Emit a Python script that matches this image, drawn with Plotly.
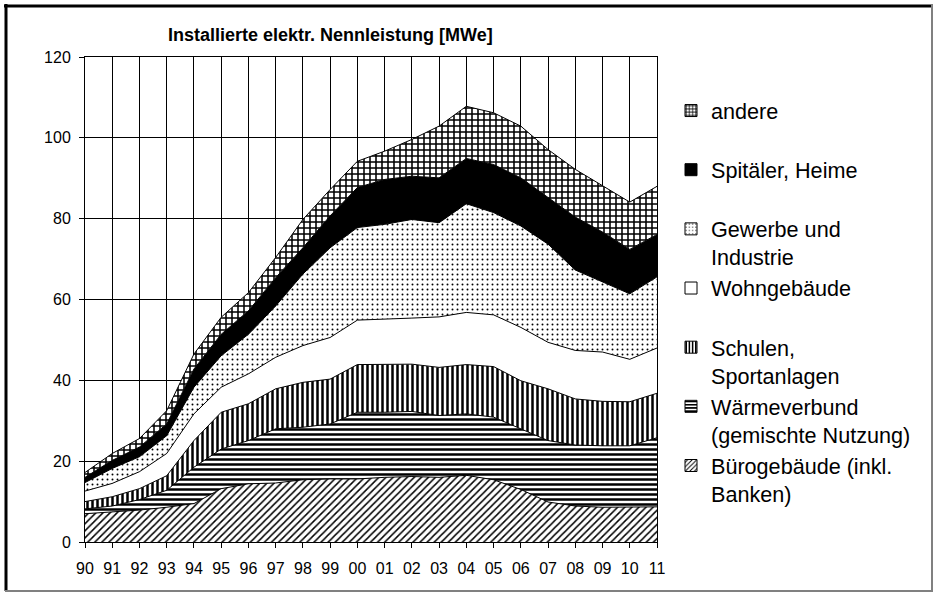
import plotly.graph_objects as go

years = ["90", "91", "92", "93", "94", "95", "96", "97", "98", "99", "00",
         "01", "02", "03", "04", "05", "06", "07", "08", "09", "10", "11"]

buero = [7.0, 7.5, 7.9, 8.6, 9.5, 13.2, 14.4, 14.6, 15.4, 15.6, 15.6,
         16.0, 16.2, 16.0, 16.5, 15.4, 13.0, 9.9, 8.9, 8.6, 8.6, 8.7]
waerme = [1.2, 1.4, 2.6, 4.2, 9.0, 9.8, 10.7, 13.4, 13.0, 13.6, 16.5,
          16.1, 16.1, 15.3, 15.2, 15.5, 15.0, 15.2, 15.1, 15.2, 15.2, 17.1]
schulen = [1.8, 2.3, 2.7, 3.6, 6.6, 9.1, 9.1, 9.9, 11.1, 11.1, 11.8,
           11.9, 11.7, 11.9, 12.2, 12.5, 11.9, 12.8, 11.4, 11.0, 10.9, 11.0]
wohn = [2.6, 3.3, 4.2, 5.5, 6.6, 6.2, 7.4, 7.8, 9.1, 10.3, 11.0,
        11.1, 11.4, 12.5, 12.9, 12.8, 13.2, 11.5, 12.0, 12.2, 10.5, 11.2]
gewerbe = [2.1, 3.7, 3.7, 4.4, 6.6, 7.8, 9.8, 12.7, 17.7, 22.2, 22.9,
           23.5, 24.4, 23.3, 26.9, 25.3, 25.1, 24.3, 19.9, 17.4, 16.2, 17.6]
spitaeler = [1.3, 2.0, 2.4, 2.9, 4.5, 5.3, 5.8, 7.0, 6.5, 7.9, 9.9,
             11.1, 10.7, 11.1, 11.2, 11.9, 11.9, 11.5, 13.1, 12.3, 11.0, 10.5]
andere = [1.2, 1.7, 2.1, 3.3, 3.7, 4.2, 4.5, 5.0, 7.0, 6.5, 6.5,
          7.0, 9.1, 12.8, 12.9, 12.8, 12.8, 11.9, 11.8, 11.4, 11.7, 11.9]

NB = "\u00a0"
series = [
    ("Bürogebäude (inkl.<br>Banken)", buero,
     dict(pattern=dict(shape="/", size=5, solidity=0.3), color="white")),
    ("Wärmeverbund<br>(gemischte Nutzung)", waerme,
     dict(pattern=dict(shape="-", size=5, solidity=0.5), color="white")),
    ("Schulen,<br>Sportanlagen", schulen,
     dict(pattern=dict(shape="|", size=5, solidity=0.5), color="white")),
    ("Wohngebäude<br>" + NB, wohn, dict(pattern=None, color="white")),
    ("Gewerbe und<br>Industrie", gewerbe,
     dict(pattern=dict(shape=".", size=5, solidity=0.12), color="white")),
    ("Spitäler, Heime<br>" + NB, spitaeler, dict(pattern=None, color="black")),
    ("andere<br>" + NB, andere,
     dict(pattern=dict(shape="+", size=6, solidity=0.45), color="white")),
]

FONT = "Liberation Sans, Arial, sans-serif"
fig = go.Figure()

# stacked areas
for name, vals, st in series:
    kw = {}
    if st["pattern"] is not None:
        kw["fillpattern"] = dict(shape=st["pattern"]["shape"], size=st["pattern"]["size"],
                                 solidity=st["pattern"]["solidity"], fgcolor="black",
                                 bgcolor="white", fillmode="replace")
    fig.add_trace(go.Scatter(
        x=years, y=vals, name=name, mode="lines", stackgroup="one",
        line=dict(color="black", width=1), fillcolor=st["color"],
        showlegend=False, hoverinfo="x+y+name", **kw))

# legend entries (patterned swatches), top to bottom; no visible bars
for name, vals, st in reversed(series):
    marker = dict(color=st["color"], line=dict(color="black", width=1))
    if st["pattern"] is not None:
        marker["pattern"] = dict(shape=st["pattern"]["shape"], size=4,
                                 solidity=st["pattern"]["solidity"], fgcolor="black",
                                 bgcolor="white", fillmode="replace")
    fig.add_trace(go.Bar(x=[years[0]], y=[None], name=name, marker=marker,
                         showlegend=True, hoverinfo="skip"))

L, R, T, B = 85, 657, 57, 542
W, H = 938, 595


def px(x):
    return (x - L) / (R - L)


def py(y):
    return (B - y) / (B - T)


fig.update_layout(
    width=W, height=H,
    margin=dict(l=L, r=W - R, t=T, b=H - B),
    paper_bgcolor="white", plot_bgcolor="white",
    font=dict(family=FONT, size=16, color="black"),
    xaxis=dict(type="category", range=[0, len(years) - 1], showgrid=True,
               gridcolor="black", gridwidth=1, showline=True, linecolor="black",
               linewidth=1, mirror=True, ticks="outside", ticklen=5,
               tickcolor="black", ticklabelstandoff=7, zeroline=False,
               tickfont=dict(size=16)),
    yaxis=dict(range=[0, 120], dtick=20, showgrid=True, gridcolor="black",
               gridwidth=1, showline=True, linecolor="black", linewidth=1,
               mirror=True, ticks="outside", ticklen=5, tickcolor="black",
               ticklabelstandoff=5, zeroline=False, tickfont=dict(size=16)),
    legend=dict(x=px(671), xanchor="left", y=py(90), yanchor="top",
                font=dict(family=FONT, size=21.6, color="black"),
                bgcolor="rgba(0,0,0,0)", valign="top", tracegroupgap=0,
                traceorder="normal"),
    showlegend=True,
    annotations=[dict(
        text="<b>Installierte elektr. Nennleistung [MWe]</b>",
        x=px(330), y=py(35), xref="paper", yref="paper",
        xanchor="center", yanchor="middle", showarrow=False,
        font=dict(family=FONT, size=18, color="black"))],
    shapes=[
        dict(type="line", xref="paper", yref="paper", x0=px(6), x1=px(6),
             y0=py(4), y1=py(591), line=dict(color="black", width=3)),
        dict(type="line", xref="paper", yref="paper", x0=px(4), x1=px(933),
             y0=py(6), y1=py(6), line=dict(color="black", width=3)),
        dict(type="line", xref="paper", yref="paper", x0=px(932), x1=px(932),
             y0=py(5), y1=py(591), line=dict(color="#808080", width=2)),
        dict(type="line", xref="paper", yref="paper", x0=px(5), x1=px(933),
             y0=py(591), y1=py(591), line=dict(color="#808080", width=2)),
    ],
)

fig.write_html("out.html", config={"displayModeBar": False},
               post_script="document.body.style.margin='0px';document.body.style.overflow='hidden';")
